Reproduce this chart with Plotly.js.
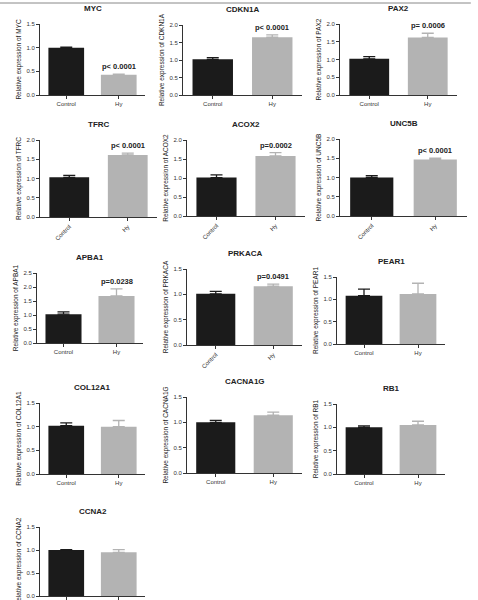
<!DOCTYPE html>
<html><head><meta charset="utf-8">
<script src="https://cdn.plot.ly/plotly-3.0.1.min.js"></script>
<style>html,body{margin:0;padding:0;background:#fff}#chart{width:478px;height:600px}</style>
</head><body><div id="chart"></div>
<script>
const categories = ["Control", "Hy"];
const genes = ["MYC","CDKN1A","PAX2","TFRC","ACOX2","UNC5B","APBA1","PRKACA","PEAR1","COL12A1","CACNA1G","RB1","CCNA2"];
const controlMean = [1.00,1.02,1.02,1.03,1.01,1.00,1.03,1.01,1.08,1.02,1.00,1.00,1.00];
const controlErr  = [0.01,0.05,0.06,0.05,0.07,0.05,0.08,0.05,0.15,0.06,0.04,0.03,0.01];
const hyMean      = [0.43,1.65,1.62,1.61,1.58,1.47,1.68,1.16,1.12,1.00,1.14,1.05,0.95];
const hyErr       = [0.01,0.07,0.12,0.05,0.09,0.03,0.25,0.04,0.24,0.13,0.06,0.08,0.06];
const pLabels = ["p< 0.0001","p< 0.0001","p= 0.0006","p< 0.0001","p=0.0002","p< 0.0001","p=0.0238","p=0.0491","","","","",""];
const yMax = [1.5,2,2,2,2,2,2.5,1.5,1.5,1.5,1.5,1.5,1.5];
const yTitles = genes.map(g => "Relative expression of " + g);

// layout boxes in pixels: [x0, x1, yTop, yBottom, rotatedTicks]
const boxes = [
  [40,145,24,95,false],[183,302,25,95,false],[340,457,24,95,false],
  [40,157,140,217,true],[187,305,140,216,true],[340,467,139,216,true],
  [37,143,273,343,false],[187,302,269,345,true],[337,445,277,344,false],
  [40,145,403,474,false],[187,302,397,473,false],[337,445,404,474,false],
  [40,145,527,596,false]
];
const W = 478, H = 600;
const CTRL = "#1b1b1b", HY = "#b3b3b3";
const data = [], annotations = [];
const layout = {
  width: W, height: H, margin: {l:0,r:0,t:0,b:0}, showlegend: false,
  paper_bgcolor: "#fff", plot_bgcolor: "#fff", barmode: "overlay",
  font: {family: "Liberation Sans, Arial, sans-serif", color: "#222"},
  shapes: [{type:"line", xref:"paper", yref:"paper", x0:0, x1:0.985, y0:1-3/H, y1:1-3/H, line:{color:"#888", width:1}}],
  annotations: annotations
};
genes.forEach((g, i) => {
  const n = i + 1, xa = "x" + (n === 1 ? "" : n), ya = "y" + (n === 1 ? "" : n);
  const [x0, x1, yt, yb, rot] = boxes[i];
  data.push({type:"bar", x:[categories[0]], y:[controlMean[i]], xaxis:xa, yaxis:ya, width:0.68,
    marker:{color:CTRL, line:{width:0}},
    error_y:{type:"data", symmetric:false, array:[controlErr[i]], arrayminus:[0], color:CTRL, thickness:1.3, width:6}, hoverinfo:"none"});
  data.push({type:"bar", x:[categories[1]], y:[hyMean[i]], xaxis:xa, yaxis:ya, width:0.68,
    marker:{color:HY, line:{width:0}},
    error_y:{type:"data", symmetric:false, array:[hyErr[i]], arrayminus:[0], color:HY, thickness:1.3, width:6}, hoverinfo:"none"});
  layout["xaxis" + (n === 1 ? "" : n)] = {
    domain:[x0/W, x1/W], anchor:ya, type:"category", categoryorder:"array", categoryarray:categories,
    range:[-0.5,1.5], showgrid:false, zeroline:false, showline:true, linecolor:"#333", linewidth:1,
    ticks:"outside", ticklen:3, tickcolor:"#333", tickangle: rot ? -45 : 0,
    tickfont:{size:6, color:"#333"}, fixedrange:true
  };
  layout["yaxis" + (n === 1 ? "" : n)] = {
    domain:[1 - yb/H, 1 - yt/H], anchor:xa, range:[0, yMax[i]], dtick:0.5, tickformat:".1f",
    showgrid:false, zeroline:false, showline:true, linecolor:"#333", linewidth:1,
    ticks:"outside", ticklen:3, tickcolor:"#333", tickfont:{size:6, color:"#333"},
    title:{text:yTitles[i], font:{size:6.5, color:"#222"}, standoff:4}, fixedrange:true
  };
  annotations.push({xref:"paper", yref:"paper", x:(x0+x1)/2/W, y:1-(yt-9)/H, yanchor:"bottom", xanchor:"center",
    text:"<b>"+g+"</b>", showarrow:false, font:{size:8, color:"#222"}});
  if (pLabels[i]) {
    annotations.push({xref:xa, yref:ya, x:categories[1], y:hyMean[i]+hyErr[i], yanchor:"bottom", xanchor:"center",
      yshift:1, text:"<b>"+pLabels[i]+"</b>", showarrow:false, font:{size:7.5, color:"#222"}});
  }
});
Plotly.newPlot("chart", data, layout, {staticPlot:true, displayModeBar:false});
</script></body></html>
